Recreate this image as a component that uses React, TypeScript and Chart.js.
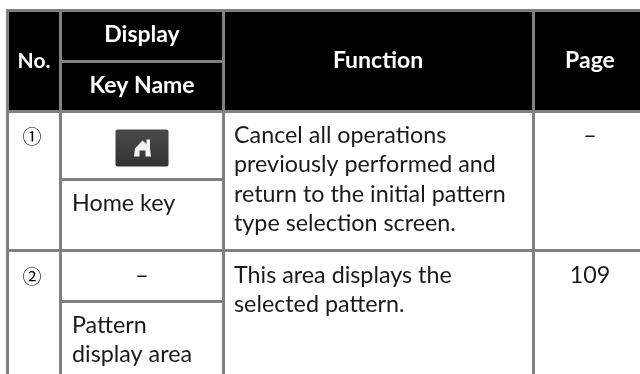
import React, { useEffect, useRef } from "react";
import { Chart, registerables } from "chart.js";

Chart.register(...registerables);

// Table content
const headerLabels = ["No.", "Display", "Key Name", "Function", "Page"];
const rowNumbers = ["①", "②"];
const keyNames = [["Home key"], ["Pattern", "display area"]];
const displayCells = ["", "–"];
const functionTexts = [
  ["Cancel all operations", "previously performed and", "return to the initial pattern", "type selection screen."],
  ["This area displays the", "selected pattern."],
];
const pageRefs = ["–", "109"];

// Layout of the table, in page pixels (rule centres)
const W = 640;
const H = 374;
const colX = [7.5, 60.5, 223.5, 533.5];
const ruleY = { top: 10.5, headSplit: 61.5, head: 111.5, r1Split: 179.5, r1: 250.5, r2Split: 301.5 };
const GRAY = "#808080";
const FONT = "Lato, sans-serif";

type Seg = [number, number, number, number];
const rules: Seg[] = [
  [colX[0] - 1.5, ruleY.top, W, ruleY.top],
  [colX[0] - 1.5, ruleY.head, W, ruleY.head],
  [colX[0] - 1.5, ruleY.r1, W, ruleY.r1],
  [colX[1], ruleY.headSplit, colX[2], ruleY.headSplit],
  [colX[1], ruleY.r1Split, colX[2], ruleY.r1Split],
  [colX[1], ruleY.r2Split, colX[2], ruleY.r2Split],
  ...colX.map((x) => [x, ruleY.top, x, H] as Seg),
];

const tablePlugin = {
  id: "tablePlugin",
  beforeDatasetsDraw(chart: any) {
    const { ctx, scales } = chart;
    const px = (v: number) => scales.x.getPixelForValue(v);
    const py = (v: number) => scales.y.getPixelForValue(v);
    ctx.save();
    ctx.fillStyle = "#000";
    ctx.fillRect(px(colX[0]), py(ruleY.top), px(W) - px(colX[0]), py(ruleY.head) - py(ruleY.top));
    ctx.restore();
  },
  afterDatasetsDraw(chart: any) {
    const { ctx, scales } = chart;
    const px = (v: number) => scales.x.getPixelForValue(v);
    const py = (v: number) => scales.y.getPixelForValue(v);
    const text = (s: string, x: number, y: number, font: string, color: string, align: CanvasTextAlign) => {
      ctx.font = font;
      ctx.fillStyle = color;
      ctx.textAlign = align;
      ctx.textBaseline = "alphabetic";
      ctx.fillText(s, px(x), py(y));
    };
    ctx.save();
    const bold = `bold 23px ${FONT}`;
    const reg = `23.3px ${FONT}`;
    text(headerLabels[0], 34, 68, `bold 21px ${FONT}`, "#fff", "center");
    text(headerLabels[1], 142, 42, bold, "#fff", "center");
    text(headerLabels[2], 142, 93, bold, "#fff", "center");
    text(headerLabels[3], 378, 68, bold, "#fff", "center");
    text(headerLabels[4], 590, 68, bold, "#fff", "center");

    const ink = "#1a1a1a";
    const circ = `19px "Noto Sans CJK JP", sans-serif`;
    text(rowNumbers[0], 32, 144, circ, "#000", "center");
    text(rowNumbers[1], 32, 283.5, circ, "#000", "center");

    [143, 172, 202, 231].forEach((y, i) => text(functionTexts[0][i], 234, y, reg, ink, "left"));
    [283, 312].forEach((y, i) => text(functionTexts[1][i], 234, y, reg, ink, "left"));
    text(pageRefs[0], 590, 143, reg, ink, "center");
    text(pageRefs[1], 590, 283, reg, ink, "center");
    text(keyNames[0][0], 72, 211, reg, ink, "left");
    text(displayCells[1], 142, 283, reg, ink, "center");
    text(keyNames[1][0], 72, 333, reg, ink, "left");
    text(keyNames[1][1], 72, 362, reg, ink, "left");

    // Home key button
    const bx = px(115.5), by = py(129.5);
    const g = ctx.createLinearGradient(0, by, 0, by + 37);
    g.addColorStop(0, "#4a4a4a");
    g.addColorStop(1, "#333");
    ctx.fillStyle = g;
    ctx.beginPath();
    ctx.roundRect(bx, by, 53, 37, 2);
    ctx.fill();
    ctx.fillStyle = "#f2f2f2";
    ctx.beginPath();
    const x0 = px(134), y0 = py(156.5);
    ctx.moveTo(x0, y0);
    ctx.lineTo(x0 + 1, y0 - 8);
    ctx.lineTo(x0 + 8.5, y0 - 16);
    ctx.lineTo(x0 + 12.5, y0 - 12.5);
    ctx.lineTo(x0 + 12.5, y0 - 17);
    ctx.lineTo(x0 + 16, y0 - 17);
    ctx.lineTo(x0 + 16, y0 - 8);
    ctx.lineTo(x0 + 17, y0);
    ctx.lineTo(x0 + 11.5, y0);
    ctx.lineTo(x0 + 11.5, y0 - 6);
    ctx.lineTo(x0 + 5.5, y0 - 6);
    ctx.lineTo(x0 + 5.5, y0);
    ctx.closePath();
    ctx.fill();
    ctx.restore();
  },
};

export default function App() {
  const ref = useRef<HTMLCanvasElement>(null);
  useEffect(() => {
    if (!ref.current) return;
    const chart = new Chart(ref.current, {
      type: "scatter",
      data: {
        datasets: rules.map(([x1, y1, x2, y2]) => ({
          data: [{ x: x1, y: y1 }, { x: x2, y: y2 }],
          showLine: true,
          borderColor: GRAY,
          borderWidth: 3,
          pointRadius: 0,
          borderCapStyle: "butt" as const,
        })),
      },
      options: {
        responsive: false,
        animation: false,
        layout: { padding: 0 },
        plugins: { legend: { display: false }, tooltip: { enabled: false }, title: { display: false } },
        scales: {
          x: { type: "linear", min: 0, max: W, display: false },
          y: { type: "linear", min: 0, max: H, reverse: true, display: false },
        },
      },
      plugins: [tablePlugin],
    });
    return () => chart.destroy();
  }, []);
  return (
    <div style={{ position: "fixed", left: 0, top: 0, width: W, height: H, background: "#fff" }}>
      <canvas ref={ref} width={W} height={H} style={{ display: "block" }} />
    </div>
  );
}
